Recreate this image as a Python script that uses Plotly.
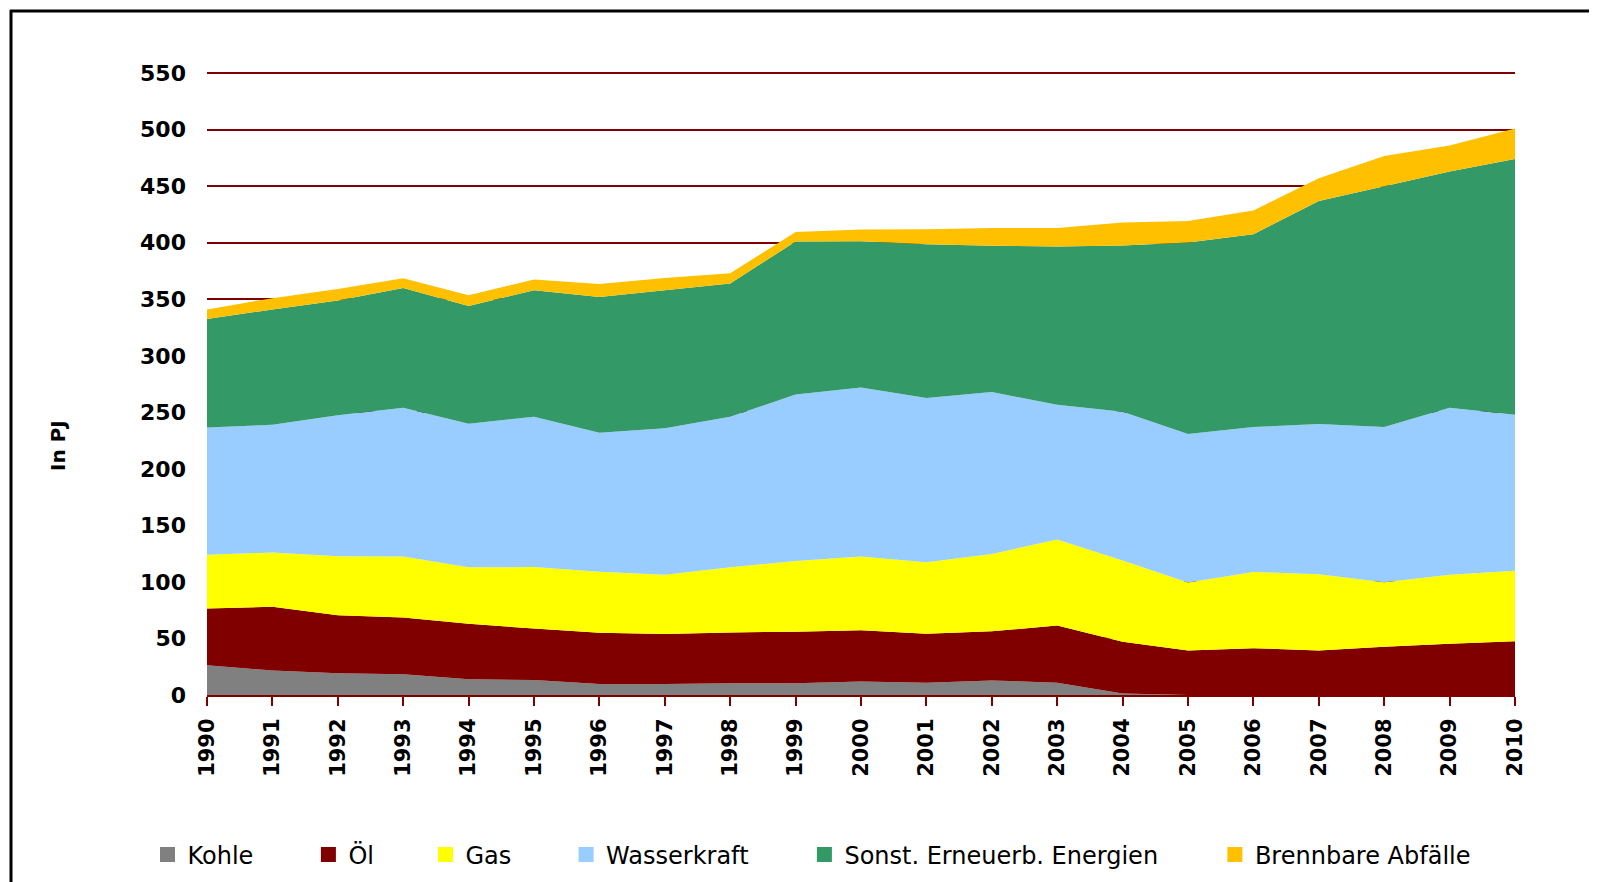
import plotly.graph_objects as go

# ---- data (PJ) ----
years = list(range(1990, 2011))
kohle = [26.4, 21.7, 19.3, 18.3, 13.9, 13.2, 9.8, 9.8, 10.5, 10.5, 11.9,
         10.8, 12.9, 10.8, 1.4, 0, 0, 0, 0, 0, 0]
oel = [50.2, 56.3, 51.2, 50.2, 49.1, 45.6, 45.2, 44.2, 44.8, 45.5, 45.3,
       43.4, 43.4, 50.6, 45.6, 39.3, 41.4, 39.3, 42.7, 45.4, 47.5]
gas = [47.4, 48.0, 52.2, 53.9, 49.9, 54.3, 54.0, 52.4, 57.7, 62.6, 65.2,
       63.1, 68.4, 76.2, 72.0, 60.2, 67.4, 67.5, 57.0, 61.0, 62.5]
wasser = [112.6, 113.0, 124.8, 131.6, 127.1, 132.9, 123.0, 129.6, 133.0, 147.2, 149.6,
          145.4, 143.3, 119.0, 131.5, 131.3, 128.2, 132.9, 137.3, 147.6, 137.8]
sonst = [95.9, 102.0, 101.5, 106.0, 104.0, 112.0, 120.0, 122.0, 118.0, 135.2, 129.2,
         135.9, 129.3, 140.0, 147.1, 169.5, 170.5, 197.3, 213.0, 209.0, 226.2]
abfall = [8.5, 10.0, 10.0, 8.5, 9.6, 9.5, 11.4, 10.8, 9.0, 8.5, 10.5,
          13.4, 15.7, 16.4, 20.4, 18.9, 21.0, 20.0, 26.6, 23.0, 27.0]

names = ["Kohle", "Öl", "Gas", "Wasserkraft", "Sonst. Erneuerb. Energien", "Brennbare Abfälle"]
series = [kohle, oel, gas, wasser, sonst, abfall]
colors = ["#808080", "#800000", "#FFFF00", "#99CCFF", "#339966", "#FFC000"]

y_ticks = list(range(0, 551, 50))
y_max = 551

# ---- layout geometry (page pixels; the page body adds an 8px offset) ----
OFF = 8
PAGE_W, PAGE_H = 1597, 882
W, H = PAGE_W - OFF, PAGE_H - OFF
L, R, T, B = 207 - OFF, 1515 - OFF, 72 - OFF, 695 - OFF


def px_x(p):
    return (p - OFF - L) / (R - L)


def px_y(p):
    return (B - (p - OFF)) / (B - T)


legend_centers = [171.5, 332.4, 449.5, 590.1, 828.4, 1238.9]

fig = go.Figure()
for name, vals, col in zip(names, series, colors):
    fig.add_trace(go.Scatter(
        x=years, y=vals, name=name, mode="none", stackgroup="one",
        fillcolor=col, showlegend=False, hoverinfo="x+y+name"))

legend_layouts = {}
for i, (name, col, cx) in enumerate(zip(names, colors, legend_centers)):
    key = "legend" if i == 0 else f"legend{i+1}"
    fig.add_trace(go.Scatter(
        x=[None], y=[None], name=name, mode="markers",
        marker=dict(symbol="square", size=15, color=col, line=dict(width=0)),
        legend=key, showlegend=True))
    legend_layouts[key] = dict(
        x=px_x(cx - 24), y=px_y(855), xref="paper", yref="paper",
        xanchor="left", yanchor="middle", orientation="h",
        font=dict(family="DejaVu Sans", size=24, color="#000000"),
        bgcolor="rgba(0,0,0,0)", borderwidth=0, itemwidth=30)

fig.update_layout(
    width=W, height=H,
    margin=dict(l=L, r=W - R, t=T, b=H - B, pad=0, autoexpand=False),
    paper_bgcolor="white", plot_bgcolor="white",
    font=dict(family="DejaVu Sans", color="#000000"),
    showlegend=True,
    **legend_layouts,
)

fig.update_xaxes(
    range=[1990, 2010], tickmode="array", tickvals=years,
    ticktext=[str(y) for y in years], tickangle=-90,
    showgrid=False, zeroline=False, automargin=False,
    showline=True, linecolor="#800000", linewidth=2,
    ticks="outside", ticklen=9, tickwidth=2, tickcolor="#800000",
    tickfont=dict(family="DejaVu Sans", size=21, color="#000000", weight="bold"),
    ticklabelstandoff=4,
)
fig.update_yaxes(
    range=[0, y_max], tickmode="array", tickvals=y_ticks,
    showgrid=True, gridcolor="#800000", gridwidth=2,
    zeroline=False, showline=False, ticks="", automargin=False,
    tickfont=dict(family="DejaVu Sans", size=22, color="#000000", weight="bold"),
    ticklabelstandoff=20,
)

# y-axis title
fig.add_annotation(
    text="In PJ", x=px_x(58), y=px_y(446), xref="paper", yref="paper",
    showarrow=False, textangle=-90, xanchor="center", yanchor="middle",
    font=dict(family="DejaVu Sans", size=20, color="#000000", weight="bold"))

# outer frame (top and left edges)
fig.add_shape(type="line", xref="paper", yref="paper",
              x0=px_x(10), x1=px_x(PAGE_W + 5), y0=px_y(11), y1=px_y(11),
              line=dict(color="black", width=3))
fig.add_shape(type="line", xref="paper", yref="paper",
              x0=px_x(11), x1=px_x(11), y0=px_y(10), y1=px_y(PAGE_H + 5),
              line=dict(color="black", width=3))

fig.write_html("out.html")
